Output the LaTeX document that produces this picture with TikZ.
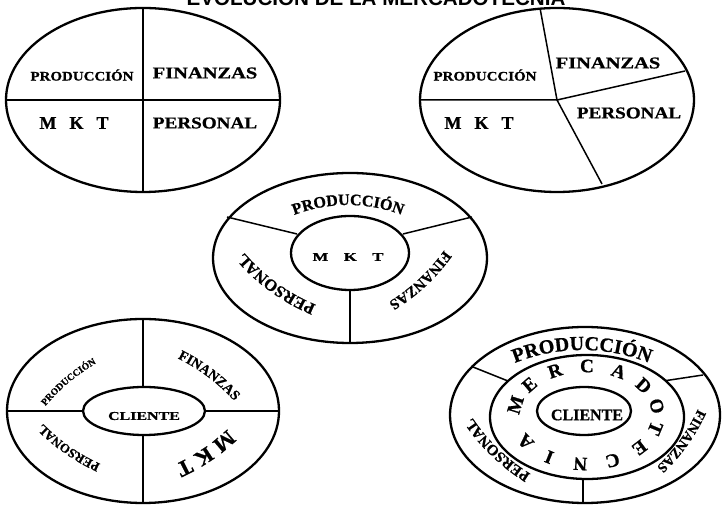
\documentclass[tikz,border=0pt]{standalone}
\usepackage{fontspec}
\setmainfont{Liberation Serif}[BoldFeatures={FakeBold=0.8}]
\newfontfamily\titlefont{Liberation Sans}
\usetikzlibrary{decorations.text}
\newcommand\fsz[1]{\fontsize{#1}{#1}\selectfont}
% #1 Bx, #2 By (baseline middle), #3 outward normal angle, #4 radius, #5 font, #6 text
\newcommand\curvetext[6]{%
  \path[decorate,decoration={text along path,text align=center,text={|#5|#6}}]
    ({#1-#4*cos(#3)+#4*cos(#3+40)},{#2-#4*sin(#3)+#4*sin(#3+40)})
    arc[start angle={#3+40}, end angle={#3-40}, radius=#4pt];}
\tikzset{
  ring/.style={line width=2.3pt},
  divider/.style={line width=1.5pt},
  lbl/.style={inner sep=0pt, font=\bfseries}
}
\begin{document}
\begin{tikzpicture}[x=1pt,y=1pt]
\useasboundingbox (0,0) rectangle (722,505);
\clip (0,0) rectangle (722,505);
\fill[white] (0,0) rectangle (722,505);

% title (cut at the top)
\node[anchor=base, inner sep=0pt, font=\titlefont\bfseries\fsz{20.6}] (title) at (376,499) {EVOLUCIÓN DE LA MERCADOTECNIA};

% ---------- circle 1 (top left) ----------
\draw[ring] (143,405) ellipse [x radius=137pt, y radius=92pt];
\draw[divider] (143,497) -- (143,313);
\draw[divider] (6,405) -- (280,405);
\node[lbl, font=\bfseries\fsz{13}] (p1) at (82,430) {\scalebox{1.15}[1]{PRODUCCIÓN}};
\node[lbl, font=\bfseries\fsz{16.5}] (f1) at (205,432) {\scalebox{1.24}[1]{FINANZAS}};
\node[lbl, font=\bfseries\fsz{18}] (m1) at (74,382) {M\hspace{13pt}K\hspace{13pt}T};
\node[lbl, font=\bfseries\fsz{16.5}] (s1) at (205,382) {\scalebox{1.16}[1]{PERSONAL}};

% ---------- circle 2 (top right) ----------
\draw[ring] (557,405) ellipse [x radius=137pt, y radius=92pt];
\draw[divider] (420,405) -- (557,405) -- (540,497);
\draw[divider] (685,434) -- (557,405) -- (602,321);
\node[lbl, font=\bfseries\fsz{13}] (p2) at (485,430) {\scalebox{1.15}[1]{PRODUCCIÓN}};
\node[lbl, font=\bfseries\fsz{16.5}] (f2) at (608,442) {\scalebox{1.24}[1]{FINANZAS}};
\node[lbl, font=\bfseries\fsz{18}] (m2) at (479,382) {M\hspace{13pt}K\hspace{13pt}T};
\node[lbl, font=\bfseries\fsz{16.5}] (s2) at (629,392) {\scalebox{1.16}[1]{PERSONAL}};

% ---------- circle 3 (middle) ----------
\draw[ring] (350,247) ellipse [x radius=137pt, y radius=85pt];
\draw[ring] (350,252) ellipse [x radius=59pt, y radius=37pt];
\draw[divider] (297,271) -- (227,288);
\draw[divider] (403,271) -- (472,288);
\draw[divider] (350,215) -- (350,162);
\node[lbl, font=\bfseries\fsz{12}] (m3) at (348,248) {\scalebox{1.4}[1]{M\hspace{11pt}K\hspace{11pt}T}};
\curvetext{348}{300}{90}{150}{\bfseries\fsz{16}}{PRODUCCIÓN}
\curvetext{419}{226}{-47}{190}{\bfseries\fsz{15}}{FINANZAS}
\curvetext{277}{222}{234}{190}{\bfseries\fsz{16.5}}{PERSONAL}

% ---------- circle 4 (bottom left) ----------
\draw[ring] (143,94) ellipse [x radius=136pt, y radius=92pt];
\draw[ring] (144,94) ellipse [x radius=61pt, y radius=24pt];
\draw[divider] (143,186) -- (143,118);
\draw[divider] (143,70) -- (143,2);
\draw[divider] (7,94) -- (83,94);
\draw[divider] (205,94) -- (279,94);
\node[lbl, font=\bfseries\fsz{12}] (c4) at (144,89) {\scalebox{1.33}[1]{CLIENTE}};
\curvetext{69}{122.5}{130}{190}{\bfseries\fsz{9.7}}{PRODUCCIÓN}
\curvetext{208}{128}{53}{190}{\bfseries\fsz{14}}{FINANZAS}
\curvetext{202.6}{56}{304}{190}{\bfseries\fsz{22}}{M K T}
\curvetext{69.8}{58.5}{235}{190}{\bfseries\fsz{13}}{PERSONAL}

% ---------- circle 5 (bottom right) ----------
\draw[ring] (585,90) ellipse [x radius=135pt, y radius=88pt];
\draw[ring] (587,88) ellipse [x radius=97pt, y radius=62pt];
\draw[ring] (584,94) ellipse [x radius=47pt, y radius=24pt];
\draw[divider] (473,138) -- (508,124);
\draw[divider] (666,124.4) -- (703,130);
\draw[divider] (583,26) -- (583,2);
\node[lbl, font=\bfseries\fsz{16}] (c5) at (587,90) {CLIENTE};
\curvetext{582}{155}{90}{180}{\bfseries\fsz{20}}{PRODUCCIÓN}
\curvetext{680}{65}{-35.5}{190}{\bfseries\fsz{14}}{FINANZAS}
\curvetext{498.5}{56}{226}{190}{\bfseries\fsz{15}}{PERSONAL}
\foreach \L [count=\i from 0] in {M,E,R,C,A,D,O,T,E,C,N,I,A} {
  \pgfmathsetmacro\tt{168-26.25*\i}
  \pgfmathsetmacro\rot{atan2(-49*cos(\tt),72*sin(\tt))}
  \node[lbl, font=\bfseries\fsz{19}, rotate=\rot] (merc\i) at ({586+72*cos(\tt)},{90+49*sin(\tt)}) {\L};
}
\end{tikzpicture}
\end{document}
